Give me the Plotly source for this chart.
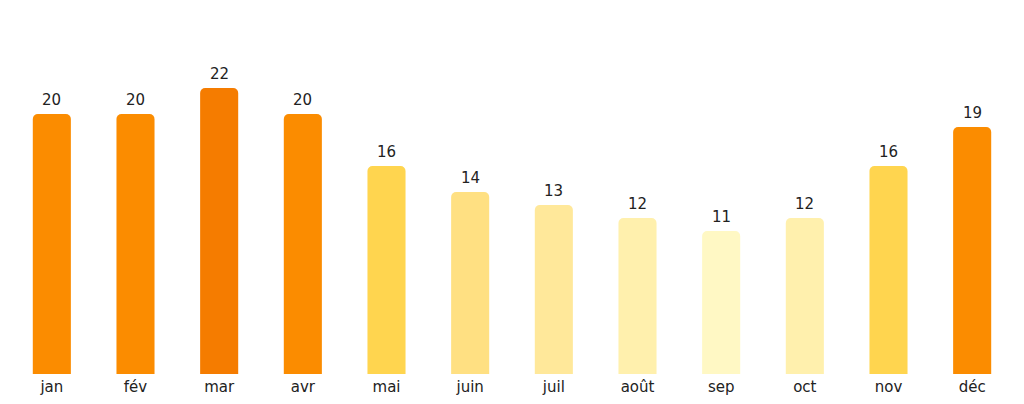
import plotly.graph_objects as go

# monthly values and their bar colours
months = ["jan", "fév", "mar", "avr", "mai", "juin", "juil", "août", "sep", "oct", "nov", "déc"]
values = [20, 20, 22, 20, 16, 14, 13, 12, 11, 12, 16, 19]
colors = ["#FB8C00", "#FB8C00", "#F57C00", "#FB8C00", "#FFD54F", "#FFE082",
          "#FFE89A", "#FFF0AD", "#FFF8C4", "#FFF0AD", "#FFD54F", "#FB8C00"]

fig = go.Figure()
fig.add_trace(go.Bar(
    x=months, y=values,
    marker=dict(color=colors, line=dict(width=0), cornerradius=5),
    width=0.455,
    hoverinfo="x+y",
))

# value labels above bars
for m, v in zip(months, values):
    fig.add_annotation(x=m, y=v, text=str(v), showarrow=False,
                       yanchor="bottom", yshift=3,
                       font=dict(size=15, color="#222222"))

fig.update_layout(
    width=1024, height=404,
    margin=dict(l=2, r=18, t=15, b=38),
    paper_bgcolor="white", plot_bgcolor="white",
    font=dict(family="DejaVu Sans", size=15, color="#222222"),
    showlegend=False,
)
fig.update_xaxes(showgrid=False, showline=False, ticks="", tickfont=dict(size=15),
                 ticklabelstandoff=2)
fig.update_yaxes(visible=False, range=[0, 27], showgrid=False, zeroline=False)

fig.write_html("out.html")
